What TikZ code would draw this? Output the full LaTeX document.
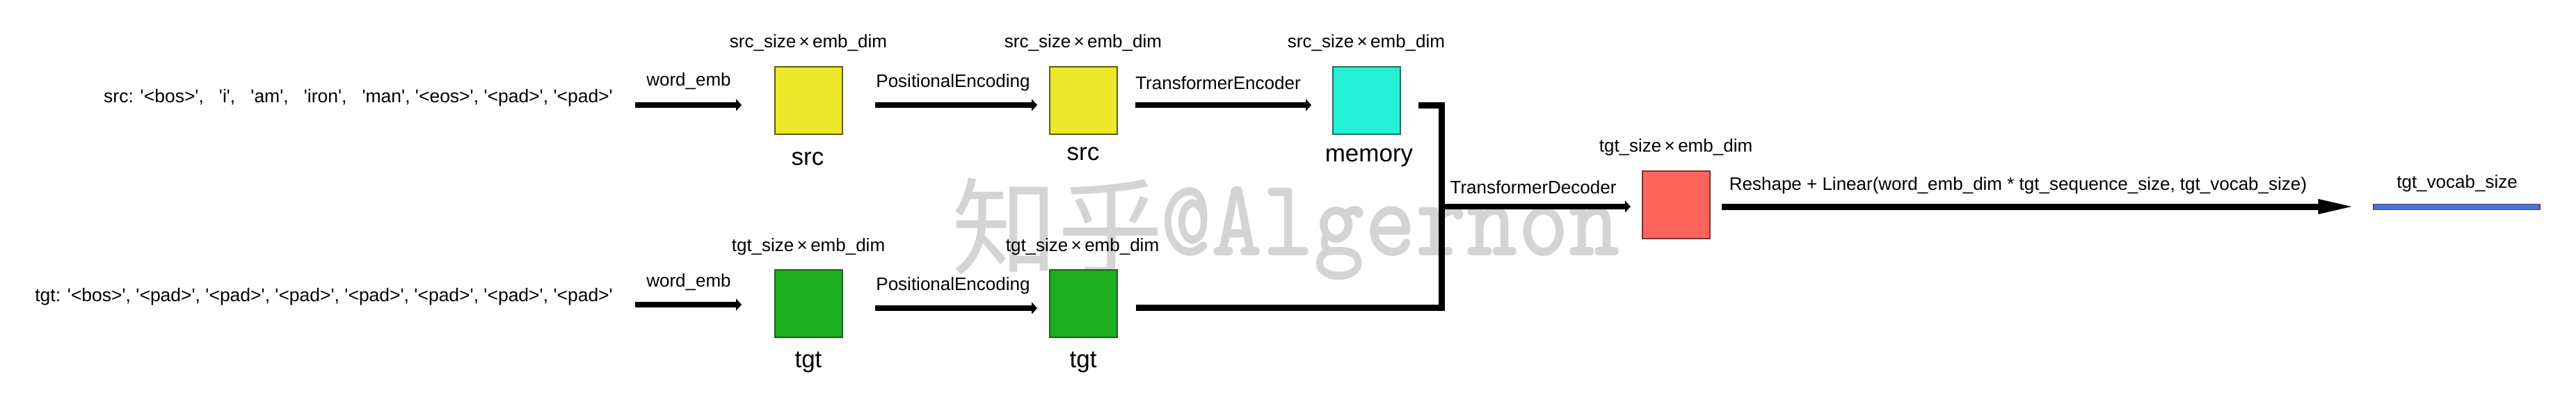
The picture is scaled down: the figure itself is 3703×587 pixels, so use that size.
\documentclass[tikz,border=0pt]{standalone}
\usepackage{fontspec}
\setmainfont{Liberation Sans}
\newfontfamily\lsans{Liberation Sans}
\newfontfamily\cjkfont{Noto Sans CJK SC}
\usetikzlibrary{arrows.meta,calc}
\definecolor{cyel}{HTML}{EDE829}
\definecolor{cyelb}{HTML}{5E5A16}
\definecolor{cgrn}{HTML}{1BAE1F}
\definecolor{cgrnb}{HTML}{1E5E1E}
\definecolor{ccyan}{HTML}{23F0D4}
\definecolor{ccyanb}{HTML}{2A6E64}
\definecolor{cred}{HTML}{FF645A}
\definecolor{credb}{HTML}{7A3430}
\definecolor{cblue}{HTML}{4A6FE3}
\definecolor{wmgray}{HTML}{D4D4D4}
\begin{document}
\begin{tikzpicture}[x=1pt,y=-1pt,
  lbl/.style={font=\lsans\fontsize{26}{30}\selectfont, inner sep=0pt, anchor=base},
  seq/.style={font=\lsans\fontsize{26.5}{30}\selectfont, inner sep=0pt, anchor=base east},
  bname/.style={font=\lsans\fontsize{35}{40}\selectfont, inner sep=0pt, anchor=base},
  blk/.style={minimum width=97pt, minimum height=97pt, inner sep=0pt, line width=2pt},
  flow/.style={line width=8pt, -{Triangle[length=8pt,width=17pt]}},
  bigflow/.style={line width=9pt, -{Triangle[length=54pt,width=19pt]}},
  link/.style={line width=9pt, line join=miter}]
\useasboundingbox (0,0) rectangle (3703,587);
% watermark
\node[anchor=base west, inner sep=0pt, text=wmgray] (wmA) at (1368,383) {\cjkfont\fontsize{152}{152}\selectfont 知乎};
\node[anchor=base west, inner sep=0pt, text=wmgray] (wmB) at (1668,367) {\scalebox{0.88}[1]{\ttfamily\bfseries\fontsize{159}{159}\selectfont @Algernon}};
% src row
\node[seq] (srcseq) at (881,147) {src: '<bos>',\ \ \ 'i',\ \ \ 'am',\ \ \ 'iron',\ \ \ 'man', '<eos>', '<pad>', '<pad>'};
\node[blk, fill=cyel, draw=cyelb] (s1) at (1162.5,144.5) {};
\node[blk, fill=cyel, draw=cyelb] (s2) at (1557.5,144.5) {};
\node[blk, fill=ccyan, draw=ccyanb] (mem) at (1964.5,144.5) {};
\node[lbl] (ls1) at (1162,68) {src\_size\,×\,emb\_dim};
\node[lbl] (ls2) at (1557,68) {src\_size\,×\,emb\_dim};
\node[lbl] (ls3) at (1964,68) {src\_size\,×\,emb\_dim};
\node[bname] (ns1) at (1161,237) {src};
\node[bname] (ns2) at (1557,230) {src};
\node[bname] (nmem) at (1968,232) {memory};
\node[lbl] (we1) at (990,123) {word\_emb};
\node[lbl] (pe1) at (1370,125) {PositionalEncoding};
\node[lbl] (te) at (1751,128) {TransformerEncoder};
\draw[flow] ($(s1.west)+(-200,6.5)$) -- ($(s1.west)+(-47,6.5)$);
\draw[flow] ($(s1.east)+(46,6.5)$) -- ($(s2.west)+(-17,6.5)$);
\draw[flow] ($(s2.east)+(25,6.5)$) -- ($(mem.west)+(-30,6.5)$);
% tgt row
\node[seq] (tgtseq) at (881,433) {tgt: '<bos>', '<pad>', '<pad>', '<pad>', '<pad>', '<pad>', '<pad>', '<pad>'};
\node[blk, fill=cgrn, draw=cgrnb] (t1) at (1162.5,436) {};
\node[blk, fill=cgrn, draw=cgrnb] (t2) at (1557.5,436) {};
\node[lbl] (lt1) at (1162,361) {tgt\_size\,×\,emb\_dim};
\node[lbl] (lt2) at (1556,361) {tgt\_size\,×\,emb\_dim};
\node[bname] (nt1) at (1162,528) {tgt};
\node[bname] (nt2) at (1557,528) {tgt};
\node[lbl] (we2) at (990,412) {word\_emb};
\node[lbl] (pe2) at (1370,417) {PositionalEncoding};
\draw[flow] ($(t1.west)+(-200,2)$) -- ($(t1.west)+(-47,2)$);
\draw[flow] ($(t1.east)+(46,7)$) -- ($(t2.west)+(-17,7)$);
% decoder
\node[blk, fill=cred, draw=credb] (dec) at (2409.5,294.5) {};
\node[lbl] (ldec) at (2409,218) {tgt\_size\,×\,emb\_dim};
\node[lbl] (td) at (2204,278) {TransformerDecoder};
\coordinate (j) at (2072,297);
\draw[link] ($(mem.east)+(25,6.5)$) -| (j) |- ($(t2.east)+(26,6)$);
\draw[flow] ($(j)+(-4.5,0)$) -- ($(dec.west)+(-16,2.5)$);
% output
\node[minimum width=239pt, minimum height=8pt, inner sep=0pt, fill=cblue, draw=black!70, line width=1.5pt] (out) at (3531.5,297.5) {};
\node[lbl] (lout) at (3532,270) {tgt\_vocab\_size};
\node[lbl] (lrs) at (2901,273) {Reshape + Linear(word\_emb\_dim * tgt\_sequence\_size, tgt\_vocab\_size)};
\draw[bigflow] ($(dec.east)+(16,2.5)$) -- ($(out.west)+(-25,-0.5)$);
\end{tikzpicture}
\end{document}
